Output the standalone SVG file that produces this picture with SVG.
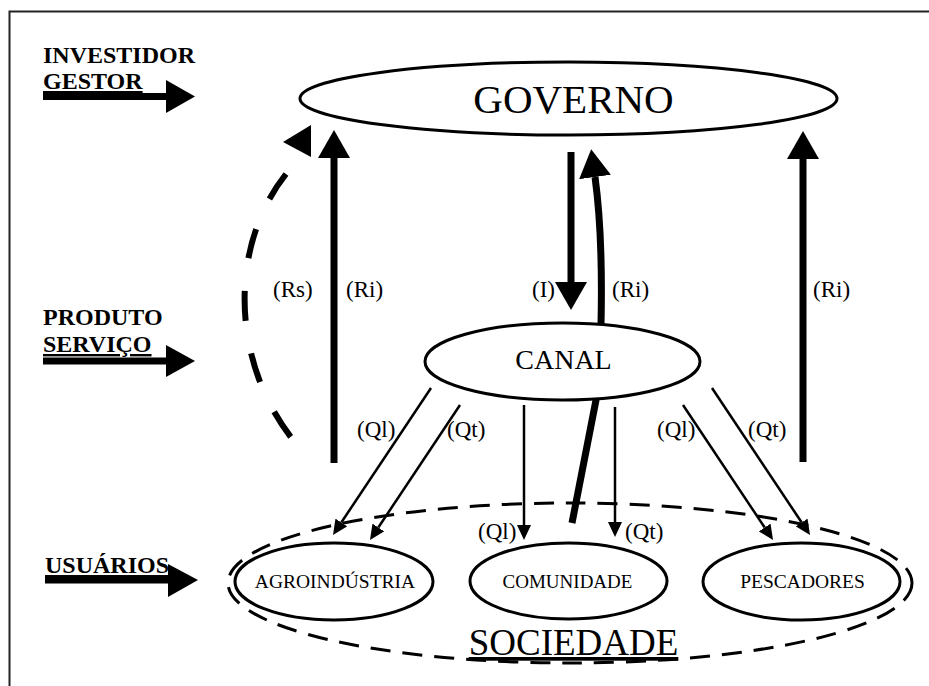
<svg xmlns="http://www.w3.org/2000/svg" width="929" height="686" viewBox="0 0 929 686">
<style>
.serif{font-family:"Liberation Serif","Times New Roman",serif;fill:#000}
.hdr{font-family:"Liberation Serif","Times New Roman",serif;font-weight:bold;font-size:24px;fill:#000}
.lbl{font-family:"Liberation Serif","Times New Roman",serif;font-size:23px;fill:#000}
.node{fill:#fff;stroke:#000;stroke-width:3}
.thin{fill:none;stroke:#000;stroke-width:2.5;marker-end:url(#sm)}
.thick{fill:none;stroke:#000;stroke-width:7;marker-end:url(#big)}
.hshaft{stroke:#000;stroke-width:7}
</style>
<defs>
<marker id="sm" markerUnits="userSpaceOnUse" viewBox="0 0 15 14" refX="0" refY="7" markerWidth="15" markerHeight="14" orient="auto">
<path d="M0,0 L15,7 L0,14 z" fill="#000"/>
</marker>
<marker id="big" markerUnits="userSpaceOnUse" viewBox="0 0 28 32" refX="0" refY="16" markerWidth="28" markerHeight="32" orient="auto">
<path d="M0,0 L28,16 L0,32 z" fill="#000"/>
</marker>
</defs>
<rect x="9.5" y="11.5" width="1000" height="1000" fill="#fff" stroke="#222" stroke-width="2"/>

<g id="legend">
<text class="hdr" x="43" y="63">INVESTIDOR</text>
<text class="hdr" x="43" y="89" text-decoration="underline">GESTOR</text>
<line class="hshaft" x1="43" y1="96.5" x2="167" y2="96.5"/>
<polygon points="166,80 195,96.5 166,113" fill="#000"/>
<text class="hdr" x="43" y="325">PRODUTO</text>
<text class="hdr" x="43" y="352" text-decoration="underline">SERVIÇO</text>
<line class="hshaft" x1="43" y1="361" x2="167" y2="361"/>
<polygon points="166,345 195,361 166,377" fill="#000"/>
<text class="hdr" x="45" y="573" text-decoration="underline">USUÁRIOS</text>
<line class="hshaft" x1="45" y1="580" x2="169" y2="580"/>
<polygon points="168,564 198,580 168,597" fill="#000"/>
</g>

<g id="connectors">
<path d="M286,174 C226,250 232,370 299,447" fill="none" stroke="#000" stroke-width="6" stroke-dasharray="30 33"/>
<polygon points="283,142 311,125 311,157" fill="#000"/>
<path class="thick" d="M334,463 L334,158"/>
<path class="thick" d="M803,462 L803,159"/>
<path class="thick" d="M571,152 L571,282"/>
<path class="thick" d="M572,523 L597,395 L601,325 Q603,235 595,177"/>
<path class="thin" d="M431,388 L341.3,522.5"/>
<path class="thin" d="M460,405 L378.3,527.5"/>
<path class="thin" d="M524,405 L524,525"/>
<path class="thin" d="M615,407 L615,522"/>
<path class="thin" d="M683,405 L764.7,527.5"/>
<path class="thin" d="M712,388 L801.7,522.5"/>
<text class="lbl" x="273" y="297">(Rs)</text>
<text class="lbl" x="346" y="297">(Ri)</text>
<text class="lbl" x="532" y="297">(I)</text>
<text class="lbl" x="612" y="297">(Ri)</text>
<text class="lbl" x="813" y="297">(Ri)</text>
<text class="lbl" x="357" y="437">(Ql)</text>
<text class="lbl" x="447" y="437">(Qt)</text>
<text class="lbl" x="657" y="437">(Ql)</text>
<text class="lbl" x="748" y="437">(Qt)</text>
<text class="lbl" x="478" y="539">(Ql)</text>
<text class="lbl" x="625" y="539">(Qt)</text>
</g>

<g id="governo">
<ellipse class="node" cx="568.5" cy="98.5" rx="268.5" ry="36.5"/>
<text class="serif" x="573.5" y="113" font-size="41" text-anchor="middle">GOVERNO</text>
</g>

<g id="canal">
<ellipse class="node" cx="562.5" cy="361.5" rx="137.5" ry="38.5"/>
<text class="serif" x="563.5" y="369" font-size="28" text-anchor="middle">CANAL</text>
</g>

<g id="sociedade">
<ellipse cx="570" cy="583" rx="342" ry="80" fill="none" stroke="#000" stroke-width="3" stroke-dasharray="20 12"/>
<text class="serif" x="573.5" y="655" font-size="37" text-anchor="middle" text-decoration="underline">SOCIEDADE</text>
</g>

<g id="agroindustria">
<ellipse class="node" cx="334" cy="581.5" rx="99" ry="38.5"/>
<text class="serif" x="335" y="588" font-size="19.5" text-anchor="middle">AGROINDÚSTRIA</text>
</g>

<g id="comunidade">
<ellipse class="node" cx="568.5" cy="581" rx="98.5" ry="38"/>
<text class="serif" x="567.5" y="588" font-size="19" text-anchor="middle">COMUNIDADE</text>
</g>

<g id="pescadores">
<ellipse class="node" cx="801.5" cy="581.5" rx="98.5" ry="38.5"/>
<text class="serif" x="802.5" y="588" font-size="19.5" text-anchor="middle">PESCADORES</text>
</g>
</svg>
